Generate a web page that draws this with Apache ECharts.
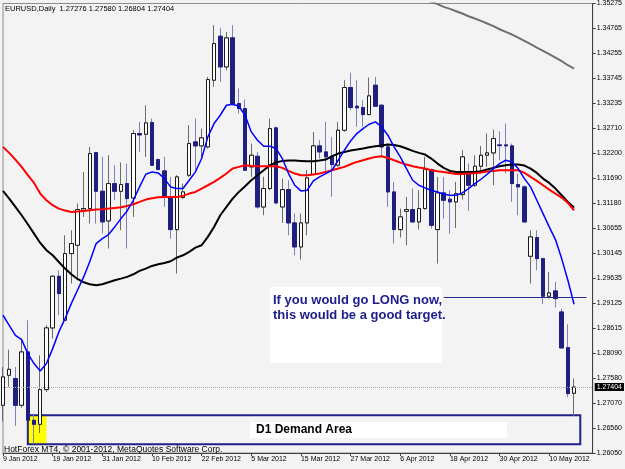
<!DOCTYPE html>
<html><head><meta charset="utf-8">
<script src="https://cdn.jsdelivr.net/npm/echarts@6/dist/echarts.min.js"></script>
<style>html,body{margin:0;padding:0;background:#f3f3f3}#c{width:625px;height:469px}</style>
</head><body><div id="c"></div><script>
const dates = [
'9 Jan 2012','10 Jan 2012','11 Jan 2012','12 Jan 2012','13 Jan 2012','16 Jan 2012','17 Jan 2012','18 Jan 2012','19 Jan 2012','20 Jan 2012',
'23 Jan 2012','24 Jan 2012','25 Jan 2012','26 Jan 2012','27 Jan 2012','30 Jan 2012','31 Jan 2012',
'1 Feb 2012','2 Feb 2012','3 Feb 2012','6 Feb 2012','7 Feb 2012','8 Feb 2012','9 Feb 2012','10 Feb 2012','13 Feb 2012','14 Feb 2012',
'15 Feb 2012','16 Feb 2012','17 Feb 2012','20 Feb 2012','21 Feb 2012','22 Feb 2012','23 Feb 2012','24 Feb 2012','27 Feb 2012','28 Feb 2012','29 Feb 2012',
'1 Mar 2012','2 Mar 2012','5 Mar 2012','6 Mar 2012','7 Mar 2012','8 Mar 2012','9 Mar 2012','12 Mar 2012','13 Mar 2012','14 Mar 2012','15 Mar 2012',
'16 Mar 2012','19 Mar 2012','20 Mar 2012','21 Mar 2012','22 Mar 2012','23 Mar 2012','26 Mar 2012','27 Mar 2012','28 Mar 2012','29 Mar 2012','30 Mar 2012',
'2 Apr 2012','3 Apr 2012','4 Apr 2012','5 Apr 2012','6 Apr 2012','9 Apr 2012','10 Apr 2012','11 Apr 2012','12 Apr 2012','13 Apr 2012',
'16 Apr 2012','17 Apr 2012','18 Apr 2012','19 Apr 2012','20 Apr 2012','23 Apr 2012','24 Apr 2012','25 Apr 2012','26 Apr 2012','27 Apr 2012','30 Apr 2012',
'1 May 2012','2 May 2012','3 May 2012','4 May 2012','7 May 2012','8 May 2012','9 May 2012','10 May 2012','11 May 2012','14 May 2012','15 May 2012','16 May 2012'
];
const open = [
1.27029,1.27645,1.27577,1.27029,1.28124,1.26721,1.26639,1.27351,1.28617,1.29677,
1.28774,1.30143,1.30314,1.31032,1.31066,1.32216,1.31422,1.30813,1.31579,1.31422,
1.31579,1.31285,1.32606,1.32592,1.32832,1.32072,1.31839,1.31306,1.30635,1.31292,
1.31750,1.32435,1.32353,1.32332,1.33700,1.34604,1.33974,1.34570,1.33222,1.33119,
1.31922,1.32140,1.31100,1.31477,1.32722,1.31100,1.31456,1.30772,1.30279,1.30772,
1.31771,1.32353,1.32229,1.32127,1.31956,1.32674,1.33550,1.33167,1.33140,1.32996,
1.33598,1.33187,1.32332,1.31408,1.30635,1.31011,1.31046,1.30793,1.31066,1.31867,
1.30635,1.31388,1.31258,1.31203,1.31354,1.31798,1.31545,1.31935,1.32161,1.32209,
1.32373,1.32373,1.32353,1.31559,1.31511,1.30088,1.30471,1.30040,1.29267,1.29376,
1.28945,1.28213,1.27276];
const high = [
1.27816,1.28172,1.27816,1.28398,1.28774,1.26858,1.28056,1.28671,1.29698,1.29800,
1.30519,1.30622,1.31169,1.31819,1.32332,1.32229,1.32127,1.32161,1.31956,1.32011,
1.31990,1.32674,1.32845,1.33187,1.32914,1.32093,1.32127,1.31716,1.31750,1.31579,
1.32777,1.32914,1.32708,1.33769,1.34830,1.34775,1.34693,1.34830,1.33530,1.33304,
1.32400,1.32229,1.31716,1.32914,1.32756,1.31682,1.31648,1.30964,1.30964,1.31853,
1.32640,1.32469,1.32845,1.32537,1.32845,1.33700,1.33851,1.33700,1.33290,1.33755,
1.33769,1.33208,1.32400,1.31614,1.31066,1.31306,1.31477,1.31443,1.32127,1.31887,
1.31716,1.31716,1.31443,1.31614,1.32264,1.31990,1.32161,1.32353,1.32606,1.32688,
1.32654,1.32811,1.32400,1.31785,1.31545,1.30622,1.30622,1.30054,1.29766,1.29561,
1.29014,1.28692,1.27580];
const low = [
1.26700,1.27406,1.26605,1.26981,1.26708,1.26242,1.26461,1.27303,1.28398,1.28877,
1.28760,1.29527,1.29595,1.30895,1.30758,1.30758,1.30553,1.30245,1.31237,1.30622,
1.30245,1.30895,1.32229,1.32127,1.31942,1.31853,1.31100,1.30450,1.29732,1.31271,
1.31716,1.31853,1.32127,1.32298,1.33564,1.33666,1.33906,1.33187,1.33016,1.31839,
1.31716,1.31066,1.30929,1.31443,1.31155,1.30772,1.30519,1.30108,1.30019,1.30519,
1.31750,1.32093,1.31785,1.31306,1.31922,1.32640,1.33085,1.32743,1.32743,1.32982,
1.33153,1.32127,1.31100,1.30348,1.30471,1.30314,1.30772,1.30635,1.31046,1.30656,
1.29937,1.30861,1.30553,1.30669,1.31251,1.31018,1.31511,1.31785,1.31922,1.31545,
1.32058,1.31785,1.31203,1.30929,1.30772,1.29527,1.29800,1.29103,1.29219,1.29034,
1.28192,1.27200,1.26804];
const close = [
1.27611,1.27768,1.27029,1.28124,1.26721,1.26639,1.27351,1.28617,1.29677,1.29322,
1.30143,1.30348,1.31046,1.31066,1.32195,1.31422,1.30793,1.31579,1.31422,1.31559,
1.31271,1.32606,1.32578,1.32825,1.31956,1.31867,1.31306,1.30635,1.31716,1.31408,
1.32400,1.32353,1.32517,1.33714,1.34453,1.33974,1.34570,1.33208,1.33119,1.31853,
1.32161,1.31100,1.31477,1.32708,1.31183,1.31456,1.30772,1.30279,1.30772,1.31696,
1.32353,1.32229,1.32127,1.31969,1.32674,1.33550,1.33140,1.33133,1.32996,1.33379,
1.33167,1.32332,1.31408,1.30635,1.30895,1.31046,1.30793,1.31066,1.31867,1.30724,
1.31388,1.31237,1.31203,1.31374,1.32127,1.31545,1.31935,1.32161,1.32209,1.32503,
1.32359,1.32353,1.31579,1.31511,1.30793,1.30485,1.30040,1.29267,1.29335,1.29219,
1.28206,1.27269,1.27404];
const maFast = [
1.28877,1.28671,1.28466,1.28377,1.28090,1.27885,1.27734,1.27885,1.28192,1.28535,
1.28808,1.29116,1.29390,1.29664,1.29985,1.30348,1.30450,1.30533,1.30690,1.30861,
1.31018,1.31237,1.31511,1.31771,1.31819,1.31798,1.31682,1.31511,1.31477,1.31477,
1.31648,1.31819,1.32093,1.32537,1.32811,1.32982,1.33187,1.33208,1.33167,1.32982,
1.32640,1.32469,1.32346,1.32346,1.32298,1.32093,1.31785,1.31545,1.31429,1.31443,
1.31634,1.31716,1.31785,1.31853,1.32058,1.32264,1.32455,1.32606,1.32708,1.32797,
1.32845,1.32743,1.32572,1.32332,1.32127,1.31887,1.31648,1.31545,1.31490,1.31443,
1.31408,1.31360,1.31340,1.31340,1.31388,1.31477,1.31579,1.31668,1.31771,1.31887,
1.31990,1.32058,1.32024,1.31887,1.31682,1.31511,1.31237,1.30964,1.30690,1.30430,
1.30040,1.29595,1.29102];
const maMid = [
1.32332,1.32209,1.32072,1.31922,1.31751,1.31593,1.31374,1.31237,1.31135,1.31066,
1.31025,1.30998,1.31005,1.31018,1.31032,1.31046,1.31053,1.31066,1.31080,1.31094,
1.31121,1.31155,1.31203,1.31251,1.31278,1.31299,1.31306,1.31306,1.31306,1.31326,
1.31374,1.31408,1.31477,1.31545,1.31614,1.31696,1.31785,1.31887,1.31922,1.31956,
1.31942,1.31935,1.31935,1.31935,1.31935,1.31901,1.31839,1.31785,1.31751,1.31751,
1.31764,1.31785,1.31819,1.31853,1.31887,1.31922,1.31976,1.32024,1.32058,1.32093,
1.32127,1.32141,1.32106,1.32058,1.32011,1.31969,1.31935,1.31908,1.31887,1.31853,
1.31833,1.31819,1.31798,1.31778,1.31778,1.31785,1.31792,1.31805,1.31826,1.31839,
1.31853,1.31853,1.31853,1.31853,1.31798,1.31716,1.31634,1.31545,1.31456,1.31374,
1.31292,1.31183,1.31032];
const maSlow = [
1.31429,1.31271,1.31100,1.30929,1.30745,1.30553,1.30361,1.30211,1.30108,1.29971,
1.29835,1.29718,1.29622,1.29554,1.29513,1.29492,1.29513,1.29554,1.29595,1.29629,
1.29664,1.29718,1.29787,1.29835,1.29889,1.29924,1.29951,1.29985,1.30060,1.30108,
1.30177,1.30266,1.30314,1.30485,1.30690,1.30929,1.31100,1.31271,1.31408,1.31525,
1.31648,1.31751,1.31853,1.31956,1.32011,1.32045,1.32052,1.32052,1.32045,1.32038,
1.32038,1.32052,1.32072,1.32141,1.32195,1.32229,1.32257,1.32277,1.32298,1.32325,
1.32346,1.32359,1.32380,1.32373,1.32346,1.32298,1.32250,1.32209,1.32175,1.32093,
1.31990,1.31901,1.31839,1.31819,1.31819,1.31819,1.31819,1.31833,1.31867,1.31901,
1.31935,1.31956,1.31969,1.31969,1.31949,1.31887,1.31798,1.31682,1.31593,1.31477,
1.31340,1.31203,1.31087];
const ma200Start = 68;
const ma200 = [1.35355,1.35308,1.35261,1.35206,1.35165,1.35117,1.35069,1.35014,1.34966,1.34919,
1.34864,1.34809,1.34747,1.34693,1.34638,1.34576,1.34508,1.34440,1.34371,1.34303,
1.34234,1.34166,1.34091,1.34008,1.33940];
const yTickLabels = ['1.26050','1.26560','1.27070','1.27580','1.28090','1.28615','1.29125','1.29635','1.30145','1.30655',
'1.31180','1.31690','1.32200','1.32710','1.33235','1.33745','1.34255','1.34765','1.35275'];
const yMin = 1.2605, yMax = 1.35275, yStep = 0.005125;
const shiftCats = ['', '', ''];
const demandTop = 1.26824, demandBottom = 1.26229;
const demandFrom = 4, demandTo = 93, highlightTo = 7;
const targetLevel = 1.2924, targetFrom = 71, targetTo = 94;
const lastPrice = 1.27404;
const titleText = 'EURUSD,Daily  1.27276 1.27580 1.26804 1.27404';
const footerText = 'HotForex MT4, \u00a9 2001-2012, MetaQuotes Software Corp.';
const noteLines = ['If you would go LONG now,', 'this would be a good target.'];
const zoneText = 'D1 Demand Area';

const FONT = '"Liberation Sans", Arial, sans-serif';
const categories = dates.concat(shiftCats);
const lastCat = categories.length - 1;
const ohlc = dates.map((d, i) => [open[i], close[i], low[i], high[i]]);
const bodies = dates.map((d, i) => [open[i], close[i], Math.min(open[i], close[i]), Math.max(open[i], close[i])]);

const chart = echarts.init(document.getElementById('c'), null, {renderer: 'canvas'});
chart.setOption({
  animation: false,
  backgroundColor: '#f3f3f3',
  grid: {left: 3, right: 31, top: 3, bottom: 16, show: true, borderColor: '#8c8c8c', borderWidth: 1, backgroundColor: '#f3f3f3'},
  xAxis: {
    type: 'category', data: categories, boundaryGap: false,
    axisLine: {lineStyle: {color: '#404040', width: 1}},
    axisTick: {show: true, interval: 7, length: 3, lineStyle: {color: '#404040'}},
    axisLabel: {interval: 7, fontSize: 7, fontFamily: FONT, color: '#000', align: 'left', margin: 3, hideOverlap: false},
    splitLine: {show: false}
  },
  yAxis: {
    type: 'value', position: 'right', min: yMin, max: yMax, interval: yStep, scale: true,
    axisLine: {show: true, lineStyle: {color: '#404040'}},
    axisTick: {show: true, length: 3, lineStyle: {color: '#404040'}},
    axisLabel: {fontSize: 7, fontFamily: FONT, color: '#000', margin: 4,
      formatter: v => { const k = Math.round((v - yMin) / yStep); return yTickLabels[k] || ''; }},
    splitLine: {show: false}
  },
  series: [
    {
      type: 'line', data: [], z: 1, silent: true,
      markArea: {silent: true, data: [
        [{xAxis: demandFrom, yAxis: demandTop, itemStyle: {color: '#ffff00', borderWidth: 0}}, {xAxis: highlightTo, yAxis: demandBottom}]
      ]}
    },
    {
      type: 'line', data: [], z: 2, silent: true,
      markLine: {
        silent: true, symbol: ['none', 'none'],
        data: [
          [{xAxis: 0, yAxis: lastPrice, lineStyle: {color: '#a8a8a8', type: 'dotted', width: 1},
            label: {show: true, position: 'end', formatter: lastPrice.toFixed(5), color: '#fff', backgroundColor: '#000',
              fontSize: 7, fontFamily: FONT, padding: [1, 2, 0, 2], distance: 2}},
           {xAxis: lastCat, yAxis: lastPrice}],
          [{xAxis: targetFrom, yAxis: targetLevel, lineStyle: {color: '#2a2a8c', type: 'solid', width: 1}, label: {show: false}},
           {xAxis: targetTo, yAxis: targetLevel}]
        ]
      }
    },
    {
      type: 'candlestick', data: ohlc, barWidth: 4, z: 3,
      itemStyle: {color: '#ffffff', color0: '#1f1f80', borderColor: '#6a6a6a', borderColor0: '#8080bc', borderWidth: 1}
    },
    {
      type: 'candlestick', data: bodies, barWidth: 4, z: 4,
      itemStyle: {color: '#ffffff', color0: '#1f1f80', borderColor: '#1a1a1a', borderColor0: '#1f1f80', borderWidth: 1}
    },
    {type: 'line', data: maSlow, symbol: 'none', z: 5, lineStyle: {color: '#000000', width: 2}},
    {type: 'line', data: maMid, symbol: 'none', z: 6, lineStyle: {color: '#ff0000', width: 2}},
    {type: 'line', data: maFast, symbol: 'none', z: 7, lineStyle: {color: '#0000ff', width: 1.5}},
    {type: 'line', data: ma200.map((v, i) => [ma200Start + i, v]), symbol: 'none', z: 5, lineStyle: {color: '#707070', width: 2}},
    {
      type: 'line', data: [], z: 8, silent: true,
      markArea: {silent: true, data: [
        [{xAxis: demandFrom, yAxis: demandTop, itemStyle: {color: 'rgba(0,0,0,0)', borderColor: '#22228c', borderWidth: 2}}, {xAxis: demandTo, yAxis: demandBottom}]
      ]}
    }
  ],
  graphic: [
    {type: 'text', x: 5, y: 8.5, z: 100, style: {text: titleText, font: '7.5px ' + FONT, fill: '#000', verticalAlign: 'middle'}},
    {type: 'rect', shape: {x: 270, y: 287, width: 172, height: 76}, z: 90, style: {fill: '#ffffff'}},
    {type: 'text', x: 273, y: 300.5, z: 100, style: {text: noteLines[0], font: 'bold 13px ' + FONT, fill: '#1c1c8c', verticalAlign: 'middle'}},
    {type: 'text', x: 273, y: 315, z: 100, style: {text: noteLines[1], font: 'bold 13px ' + FONT, fill: '#1c1c8c', verticalAlign: 'middle'}},
    {type: 'rect', shape: {x: 250, y: 422, width: 257, height: 16}, z: 90, style: {fill: '#ffffff'}},
    {type: 'text', x: 256, y: 430, z: 100, style: {text: zoneText, font: 'bold 12px ' + FONT, fill: '#000', verticalAlign: 'middle'}},
    {type: 'text', x: 4, y: 449.5, z: 100, style: {text: footerText, font: '8.5px ' + FONT, fill: '#000', verticalAlign: 'middle'}}
  ]
});
</script></body></html>
